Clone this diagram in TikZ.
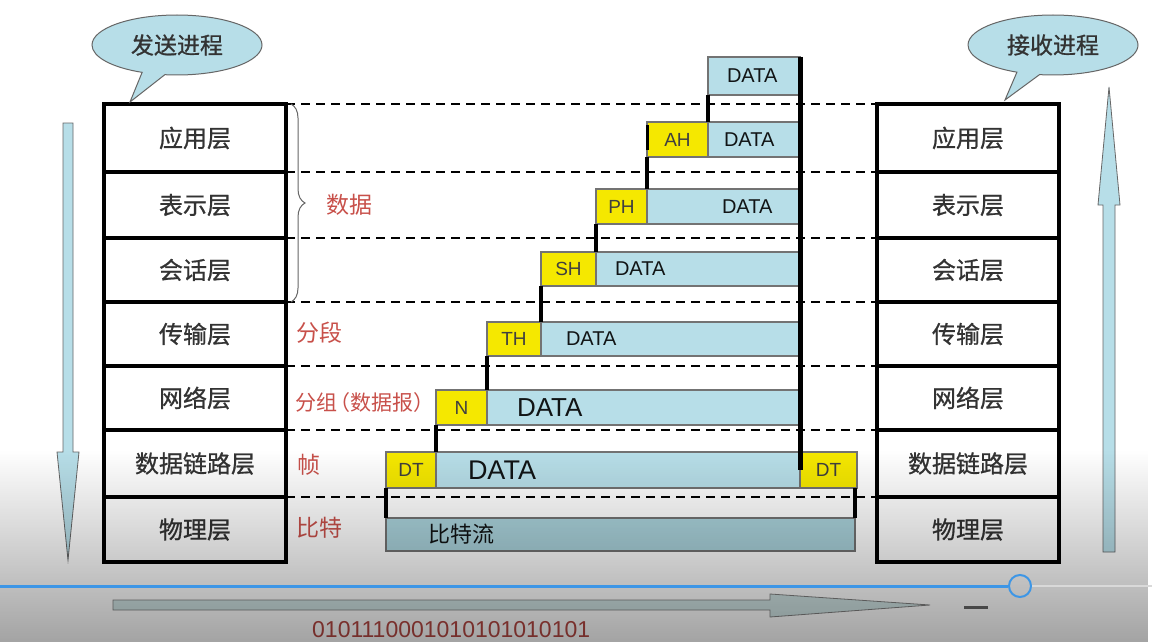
\documentclass[tikz,border=0pt]{standalone}
\usepackage{fontspec}
\setmainfont{Liberation Sans}
\newfontfamily\cjk{Noto Sans CJK SC}
\newfontfamily\cjkheavy[FakeBold=0.8]{Noto Sans CJK SC}
\usetikzlibrary{positioning,shapes.callouts,decorations.pathreplacing,fadings}
\definecolor{hdryellow}{HTML}{F5E800}
\definecolor{datablue}{HTML}{B7DEE8}
\definecolor{bitblue}{HTML}{AAD3DC}
\definecolor{labelred}{HTML}{C8504A}
\definecolor{barblue}{HTML}{3D96E6}
\definecolor{flowgray}{HTML}{D0E4E4}
\tikzfading[name=screenfade, top color=transparent!100, bottom color=transparent!0]

\begin{document}
\begin{tikzpicture}[
    x=1pt, y=-1pt,
    layer/.style={draw, line width=4.5pt, minimum width=182pt, inner sep=0pt, outer sep=0pt, text=black!80, font=\cjkheavy\fontsize{24}{26}\selectfont},
    hdr/.style={draw=black!55, line width=1.2pt, fill=hdryellow, minimum height=35pt, inner sep=0pt, outer sep=0pt, text=black!75, font=\fontsize{19}{22}\selectfont},
    payload/.style={draw=black!55, line width=1.2pt, fill=datablue, minimum height=35pt, inner sep=0pt, outer sep=0pt, align=left, text=black!70!datablue!30!black, font=\fontsize{20}{22}\selectfont},
    stub/.style={line width=4.5pt},
    boundary/.style={dash pattern=on 9pt off 6pt, line width=2.5pt},
    databrace/.style={decorate, decoration={brace, amplitude=14pt}, draw=black!60, line width=1pt},
    redlbl/.style={text=labelred, font=\cjk\fontsize{23}{26}\selectfont, anchor=west, inner sep=0pt},
    bubble/.style={ellipse callout, draw=black!60, line width=1pt, fill=datablue, minimum width=170pt, minimum height=60pt, callout pointer arc=16, text=black!80, font=\cjkheavy\fontsize{23}{26}\selectfont},
    bigarrow/.style={fill=datablue, draw=black!60, line width=0.8pt}
]
\useasboundingbox (0,0) rectangle (1152,642);
\fill[white] (0,0) rectangle (1152,642);

% Sending side
\node[layer, minimum height=68pt] (app) at (195,138) {应用层};
\node[layer, minimum height=66pt, below=0pt of app] (pres) {表示层};
\node[layer, minimum height=64pt, below=0pt of pres] (sess) {会话层};
\node[layer, minimum height=64pt, below=0pt of sess] (trans) {传输层};
\node[layer, minimum height=64pt, below=0pt of trans] (net) {网络层};
\node[layer, minimum height=67pt, below=0pt of net] (link) {数据链路层};
\node[layer, minimum height=65pt, below=0pt of link] (phys) {物理层};

% Receiving side
\node[layer, minimum height=68pt, right=591pt of app] (appR) {应用层};
\node[layer, minimum height=66pt, below=0pt of appR] (presR) {表示层};
\node[layer, minimum height=64pt, below=0pt of presR] (sessR) {会话层};
\node[layer, minimum height=64pt, below=0pt of sessR] (transR) {传输层};
\node[layer, minimum height=64pt, below=0pt of transR] (netR) {网络层};
\node[layer, minimum height=67pt, below=0pt of netR] (linkR) {数据链路层};
\node[layer, minimum height=65pt, below=0pt of linkR] (physR) {物理层};

% Speech bubbles
\node[bubble, callout absolute pointer={(130,102)}] (sender) at (177,45) {发送进程};
\node[bubble, callout absolute pointer={(1005,100)}] (receiver) at (1053,45) {接收进程};

% Direction arrows
\filldraw[bigarrow] (63,123) -- (73,123) -- (73,452) -- (79,452) -- (68,560) -- (57,452) -- (63,452) -- cycle;
\filldraw[bigarrow] (1103,552) -- (1115,552) -- (1115,205) -- (1120,205) -- (1109,87) -- (1098,205) -- (1103,205) -- cycle;

% Layer boundaries
\draw[boundary] (app.north east) -- (appR.north west);
\draw[boundary] (app.south east) -- (appR.south west);
\draw[boundary] (pres.south east) -- (presR.south west);
\draw[boundary] (sess.south east) -- (sessR.south west);
\draw[boundary] (trans.south east) -- (transR.south west);
\draw[boundary] (net.south east) -- (netR.south west);
\draw[boundary] (link.south east) -- (linkR.south west);

% Brace and unit names
\draw[databrace] ([xshift=5pt]app.north east) -- ([xshift=5pt]sess.south east);
\node[redlbl] (lbldata) at (326,205) {数据};
\node[redlbl] (lblseg) at (296,333) {分段};
\node[redlbl, font=\cjk\fontsize{21}{24}\selectfont] (lblpkt) at (295,403) {分组\kern-8pt（数据报）};
\node[redlbl] (lblframe) at (297,465) {帧};
\node[redlbl] (lblbit) at (296,528) {比特};

% Encapsulation
\node[payload, text width=92pt, minimum height=38pt] (d1) at (754,76) {\hspace*{19pt}DATA};

\node[hdr, minimum width=61pt] (ah) at (677.5,139.5) {AH};
\node[payload, text width=92pt, right=0pt of ah] (ahd) {\hspace*{16pt}DATA};

\node[hdr, minimum width=51pt] (ph) at (621.5,206.5) {PH};
\node[payload, text width=153pt, right=0pt of ph] (phd) {\hspace*{75pt}DATA};

\node[hdr, minimum width=55pt, minimum height=34pt] (sh) at (568.5,269) {SH};
\node[payload, text width=204pt, minimum height=34pt, right=0pt of sh] (shd) {\hspace*{19pt}DATA};

\node[hdr, minimum width=54pt, minimum height=34pt] (th) at (514,339) {TH};
\node[payload, text width=259pt, minimum height=34pt, right=0pt of th] (thd) {\hspace*{25pt}DATA};

\node[hdr, minimum width=51pt] (n) at (461.5,407.5) {N};
\node[payload, text width=313pt, right=0pt of n, font=\fontsize{26}{28}\selectfont] (nd) {\hspace*{30pt}DATA};

\node[hdr, minimum width=50pt, minimum height=36pt] (dt) at (411,470) {DT};
\node[payload, text width=364pt, minimum height=36pt, right=0pt of dt, font=\fontsize{27}{29}\selectfont] (dtd) {\hspace*{32pt}DATA};
\node[hdr, minimum width=57pt, minimum height=36pt, right=0pt of dtd] (dt2) {DT};

\node[payload, text width=469pt, minimum height=33pt, fill=bitblue, font=\cjk\fontsize{22}{24}\selectfont] (bits) at (620.5,534.5) {\hspace*{42pt}比特流};

\draw[stub, line width=5pt] (d1.north east) -- (d1.north east |- dtd.east);
\draw[stub] (d1.south west) -- (ahd.north west);
\draw[stub, line width=3pt] ([yshift=-3pt]ah.north west) -- ([yshift=7pt]ah.south west);
\draw[stub] (ah.south west) -- (phd.north west);
\draw[stub] (ph.south west) -- (shd.north west);
\draw[stub] (sh.south west) -- (thd.north west);
\draw[stub] (th.south west) -- (nd.north west);
\draw[stub] (n.south west) -- (dtd.north west);
\draw[stub] (dt.south west) -- (bits.north west);
\draw[stub] (bits.north east) -- (bits.north east |- dt2.south);

% Bit stream on the wire
\filldraw[fill=flowgray, draw=black!50, line width=0.8pt] (113,600) -- (770,600) -- (770,594) -- (930,605) -- (770,617) -- (770,610) -- (113,610) -- cycle;
\draw[black!60, line width=3pt] (964,607) -- (988,607);
\node[anchor=base west, inner sep=0pt, text=labelred!90!black, font=\fontsize{23}{25}\selectfont] (stream) at (312,637) {0101110001010101010101};

% Player overlay
\fill[black, fill opacity=0.36, path fading=screenfade, fit fading=true] (0,450) rectangle (1152,642);
\node[circle, draw=barblue, line width=2pt, minimum size=22pt, inner sep=0pt] (knob) at (1020,586) {};
\draw[barblue, line width=3pt] (0,586) -- (knob.west);
\draw[black!15, line width=2pt] (knob.east) -- (1152,586);

\end{tikzpicture}
\end{document}
